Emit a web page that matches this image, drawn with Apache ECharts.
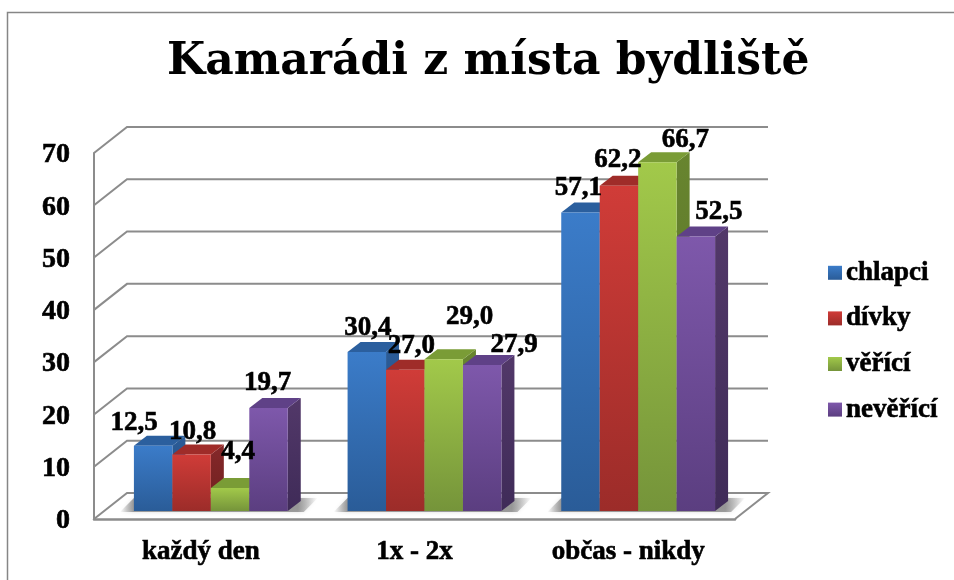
<!DOCTYPE html>
<html><head><meta charset="utf-8">
<style>html,body{margin:0;padding:0;background:#fff}#c{width:954px;height:580px}</style>
<script src="https://cdn.jsdelivr.net/npm/echarts@6/dist/echarts.min.js"></script>
</head><body><div id="c"></div>
<script>
const categories = ['každý den', '1x - 2x', 'občas - nikdy'];
const chlapci = [12.5, 30.4, 57.1];
const divky = [10.8, 27.0, 62.2];
const verici = [4.4, 29.0, 66.7];
const neverici = [19.7, 27.9, 52.5];
const ticks = [0, 10, 20, 30, 40, 50, 60, 70];
const seriesNames = ['chlapci', 'dívky', 'věřící', 'nevěřící'];

// label nudges (px) relative to the bar's top-front centre
const labelNudgeX = [[-19, 1, 8, -1], [1, 6, 26, 32], [-2, -1, 28, 23]];
const labelNudgeY = [[-23, -23, -36, -25], [-24, -24, -42, -20], [-24, -26, -22, -24]];

const FONT = '"Liberation Serif", serif';
const TITLE_FONT = '"DejaVu Serif", serif';
const GRID = '#8c8c8c';
const WALL_DX = 33, WALL_DY = 26, FLOOR_DX = 10, FLOOR_DY = 8, BAR_DX = 13, BAR_DY = 10;
const styles = [
  {top:'#3b7cc9', bot:'#2a5c98', roof:'#2b5f9e', side1:'#2b5c98', side2:'#234c7e'},
  {top:'#d03c38', bot:'#9c2c29', roof:'#9f2c29', side1:'#85282a', side2:'#6f201e'},
  {top:'#a2c94a', bot:'#75943a', roof:'#7a9c36', side1:'#68852f', side2:'#556d27'},
  {top:'#7e58ab', bot:'#5b3e80', roof:'#5f4187', side1:'#523869', side2:'#3f2b58'}
];
const grad = (a, b) => new echarts.graphic.LinearGradient(0, 0, 0, 1, [{offset:0,color:a},{offset:1,color:b}]);

function wallItem(params, api) {
  const cs = params.coordSys, L = cs.x, R = cs.x + cs.width;
  const y = api.coord([0, api.value(0)])[1];
  const pts = [[L, y], [L + WALL_DX, y - WALL_DY], [R + WALL_DX, y - WALL_DY]];
  if (api.value(0) === 0) pts.push([R, y]);
  return {type:'polyline', shape:{points:pts},
    style:{stroke:GRID, lineWidth:2, fill:null}, silent:true};
}
function shadowItem(params, api) {
  const c = api.coord([api.value(0), 0]);
  const band = api.size([1, 0])[0];
  const half = band * 0.36, x = c[0] + FLOOR_DX, y = c[1] - FLOOR_DY;
  const pts = [[x - half - 14, y + 1], [x + half + 16, y + 1], [x + half + 30, y - 13], [x - half, y - 13]];
  return {type:'polygon', shape:{points:pts}, silent:true,
    style:{shadowBlur:4, shadowColor:'rgba(120,120,120,0.35)',
      fill:new echarts.graphic.LinearGradient(0, 0, 1, 0, [
      {offset:0,color:'rgba(120,120,120,0)'},{offset:0.07,color:'rgba(120,120,120,0.7)'},
      {offset:0.9,color:'rgba(120,120,120,0.7)'},{offset:1,color:'rgba(120,120,120,0)'}])}};
}
function barRenderer(si) {
  return function (params, api) {
    const cat = api.value(0), val = api.value(1);
    const band = api.size([1, 0])[0], w = band * 0.18;
    const t = api.coord([cat, val]), b = api.coord([cat, 0]);
    const x0 = t[0] + FLOOR_DX + (si - 2) * w, x1 = x0 + w;
    const yt = t[1] - FLOOR_DY, yb = b[1] - FLOOR_DY;
    const s = styles[si];
    const nx = labelNudgeX[cat][si], ny = labelNudgeY[cat][si];
    return {type:'group', children:[
      {type:'polygon', shape:{points:[[x1,yt],[x1+BAR_DX,yt-BAR_DY],[x1+BAR_DX,yb-BAR_DY],[x1,yb]]},
        style:{fill:grad(s.side1, s.side2)}},
      {type:'polygon', shape:{points:[[x0,yt],[x1,yt],[x1+BAR_DX,yt-BAR_DY],[x0+BAR_DX,yt-BAR_DY]]},
        style:{fill:s.roof}},
      {type:'rect', shape:{x:x0, y:yt, width:w, height:yb-yt},
        style:{fill:grad(s.top, s.bot)}},
      {type:'text', z2:100, x:(x0+x1)/2+nx, y:yt+ny,
        style:{text:val.toFixed(1).replace('.', ','), font:'bold 27px '+FONT, fill:'#000',
          stroke:'#000', lineWidth:0.6, align:'center', verticalAlign:'middle'}}
    ]};
  };
}
const values = [chlapci, divky, verici, neverici];
const series = [
  {type:'custom', name:'_walls', coordinateSystem:'cartesian2d', renderItem:wallItem, silent:true,
    data:ticks.map(t => [t]), encode:{y:0}, z:1},
  {type:'custom', name:'_shadow', coordinateSystem:'cartesian2d', renderItem:shadowItem, silent:true,
    data:categories.map((c,i) => [i, 0]), encode:{x:0,y:1}, z:2}
];
seriesNames.forEach((n, si) => series.push({
  type:'custom', name:n, coordinateSystem:'cartesian2d', renderItem:barRenderer(si),
  data:categories.map((c,i) => [i, values[si][i]]), encode:{x:0,y:1}, z:3,
  itemStyle:{color:grad(styles[si].top, styles[si].bot)}
}));
const bold = {textBorderColor:'#000', textBorderWidth:0.6};
const chart = echarts.init(document.getElementById('c'), null, {renderer:'canvas'});
chart.setOption({
  animation:false, backgroundColor:'#fff',
  title:{text:'Kamarádi z místa bydliště', left:162, top:36,
    textStyle:{fontFamily:TITLE_FONT, fontWeight:'bold', fontSize:44, color:'#000'}},
  legend:{data:seriesNames, orient:'vertical', left:828, top:259, padding:0, itemWidth:14, itemHeight:14, itemGap:18,
    icon:'rect', selectedMode:false,
    textStyle:{fontFamily:FONT, fontWeight:'bold', fontSize:27, color:'#000', padding:[0,0,0,-1], ...bold}},
  grid:{left:94, right:219, top:153, bottom:61},
  xAxis:{type:'category', data:categories, boundaryGap:true,
    axisLine:{show:true, lineStyle:{color:GRID, width:2.5}}, axisTick:{show:false},
    axisLabel:{margin:20, fontFamily:FONT, fontWeight:'bold', fontSize:27, color:'#000', ...bold}},
  yAxis:{type:'value', min:0, max:70, interval:10, splitLine:{show:false},
    axisLine:{show:true, lineStyle:{color:GRID, width:2}}, axisTick:{show:false},
    axisLabel:{margin:24, fontFamily:FONT, fontWeight:'bold', fontSize:28, color:'#000', verticalAlign:'top', padding:[-12,0,0,0], ...bold}},
  graphic:[{type:'rect', shape:{x:7.5, y:12.5, width:1000, height:1000}, silent:true, z:-1,
    style:{fill:null, stroke:'#868686', lineWidth:1.5}}],
  series
});
</script></body></html>
